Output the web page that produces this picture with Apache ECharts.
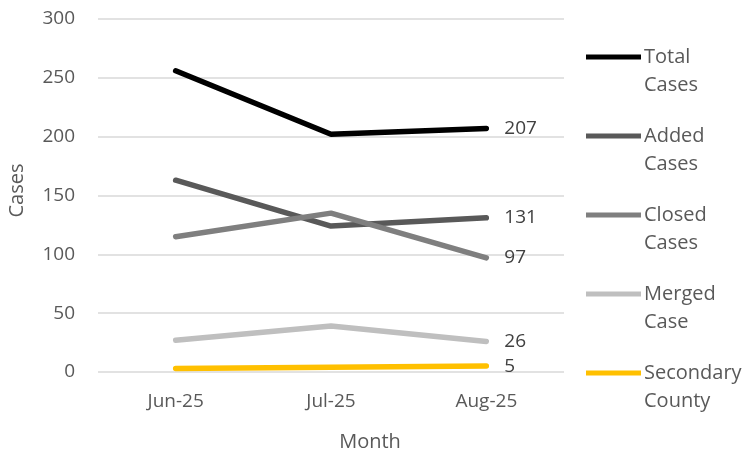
<!DOCTYPE html>
<html>
<head>
<meta charset="utf-8">
<script src="https://cdn.jsdelivr.net/npm/echarts@6/dist/echarts.min.js"></script>
<style>
  html, body { margin: 0; padding: 0; background: #fff; }
  #main { width: 748px; height: 455px; }
</style>
</head>
<body>
<div id="main"></div>
<script>
var months = ['Jun-25', 'Jul-25', 'Aug-25'];
var seriesNames = ['Total Cases', 'Added Cases', 'Closed Cases', 'Merged Case', 'Secondary County'];
var totalCases = [256, 202, 207];
var addedCases = [163, 124, 131];
var closedCases = [115, 135, 97];
var mergedCase = [27, 39, 26];
var secondaryCounty = [3, 4, 5];
var colors = ['#000000', '#595959', '#7f7f7f', '#bfbfbf', '#ffc000'];

var font = 'Open Sans';
var chart = echarts.init(document.getElementById('main'));

function makeSeries(name, data, color) {
  return {
    name: name,
    type: 'line',
    data: data,
    symbol: 'none',
    color: color,
    itemStyle: { color: color },
    lineStyle: { width: 5.5, color: color, cap: 'round' },
    endLabel: {
      show: true,
      distance: 18,
      color: '#404040',
      fontFamily: font,
      fontSize: 19,
      formatter: '{c}'
    }
  };
}

var option = {
  animation: false,
  backgroundColor: '#fff',
  grid: { left: 98, right: 184, top: 19, bottom: 83, outerBoundsMode: 'none' },
  legend: {
    orient: 'vertical',
    left: 586,
    top: 15,
    padding: 0,
    icon: 'rect',
    itemWidth: 55,
    itemHeight: 5,
    itemGap: -5,
    data: seriesNames,
    // leading blank line puts the first word level with the icon
    formatter: function (n) { return ' \n' + n.replace(' ', '\n'); },
    textStyle: { color: '#595959', fontFamily: font, fontSize: 20, lineHeight: 28, padding: [0, 0, 0, -2] }
  },
  xAxis: {
    type: 'category',
    data: months,
    name: 'Month',
    nameLocation: 'middle',
    nameGap: 60,
    nameTextStyle: { color: '#595959', fontFamily: font, fontSize: 20, padding: [0, 0, 0, 78] },
    axisLine: { show: false },
    axisTick: { show: false },
    axisLabel: { color: '#595959', fontFamily: font, fontSize: 19, margin: 20 }
  },
  yAxis: {
    type: 'value',
    min: 0,
    max: 300,
    interval: 50,
    name: 'Cases',
    nameLocation: 'middle',
    nameGap: 71,
    nameTextStyle: { color: '#595959', fontFamily: font, fontSize: 20, padding: [0, 0, 0, 10] },
    axisLine: { show: false },
    axisTick: { show: false },
    splitLine: { lineStyle: { color: '#d9d9d9', width: 1.5 } },
    axisLabel: { color: '#595959', fontFamily: font, fontSize: 19, margin: 23 }
  },
  series: [
    makeSeries(seriesNames[0], totalCases, colors[0]),
    makeSeries(seriesNames[1], addedCases, colors[1]),
    makeSeries(seriesNames[2], closedCases, colors[2]),
    makeSeries(seriesNames[3], mergedCase, colors[3]),
    makeSeries(seriesNames[4], secondaryCounty, colors[4])
  ]
};

chart.setOption(option);
</script>
</body>
</html>
